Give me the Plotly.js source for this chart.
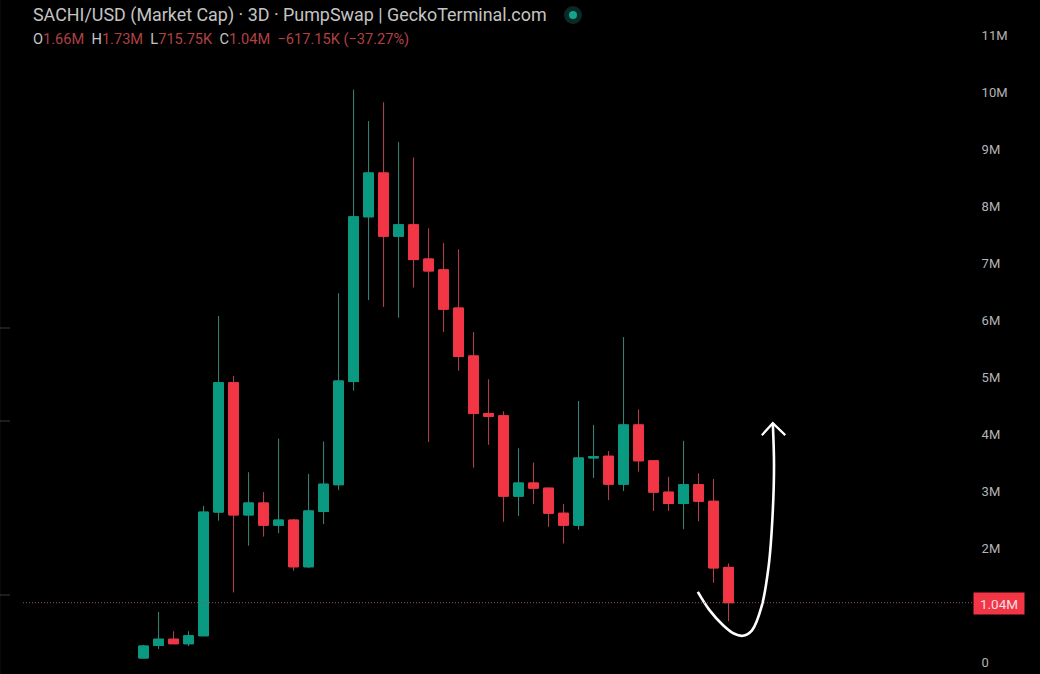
<!DOCTYPE html>
<html>
<head>
<meta charset="utf-8">
<script src="https://cdn.plot.ly/plotly-3.0.1.min.js"></script>
<style>
html, body { margin: 0; padding: 0; background: #000; overflow: hidden; }
</style>
</head>
<body>
<div id="chart" style="width:1040px;height:674px"></div>
<script>
// values in millions
var candle_x = [0,1,2,3,4,5,6,7,8,9,10,11,12,13,14,15,16,17,18,19,20,21,22,23,24,25,26,27,28,29,30,31,32,33,34,35,36,37,38,39]
var open_list = [0.07,0.29,0.40,0.32,0.46,2.63,4.90,2.58,2.79,2.40,2.49,1.67,2.64,3.11,4.92,7.81,8.58,7.47,7.67,7.07,6.88,6.21,5.37,4.36,4.32,2.91,3.14,3.05,2.61,2.40,3.58,3.61,3.12,4.16,3.53,2.98,2.78,3.11,2.82,1.66]
var high_list = [0.30,0.88,0.54,0.54,2.74,6.07,5.02,3.33,2.98,3.92,2.51,3.30,3.87,6.47,10.04,9.49,9.82,9.12,8.85,7.61,7.35,7.24,5.79,4.96,4.40,3.75,3.50,3.06,2.77,4.58,4.16,3.70,5.70,4.43,3.53,3.25,3.88,3.31,3.21,1.73]
var low_list = [0.07,0.23,0.32,0.28,0.46,2.48,1.22,2.04,2.20,2.26,1.60,1.65,2.42,3.02,4.76,6.35,6.23,6.04,6.57,3.86,5.79,5.11,3.41,3.81,2.46,2.56,2.77,2.37,2.08,2.32,3.23,2.84,3.00,3.34,2.65,2.65,2.33,2.47,1.39,0.716]
var close_list = [0.28,0.40,0.32,0.46,2.63,4.90,2.58,2.79,2.40,2.49,1.67,2.65,3.12,4.93,7.81,8.58,7.47,7.67,7.06,6.86,6.19,5.36,4.36,4.31,2.91,3.14,3.05,2.61,2.40,3.58,3.60,3.12,4.16,3.53,2.98,2.78,3.11,2.82,1.65,1.04]
var body_high = open_list.map(function (v, i) { return Math.max(v, close_list[i]) })
var body_low = open_list.map(function (v, i) { return Math.min(v, close_list[i]) })

var tick_vals = [0,2,3,4,5,6,7,8,9,10,11]
var tick_text = ['0','2M','3M','4M','5M','6M','7M','8M','9M','10M','11M']
var last_price = 1.04

// hand drawn arrow on top of the chart
var curve_x = [36.95,37.73,38.62,39.35,39.95,40.55,41.2,41.68,41.93,42.03,41.95]
var curve_y = [1.23,0.91,0.65,0.50,0.46,0.55,0.97,1.70,2.55,3.45,4.19]
var head_x = [41.22,41.95,42.78]
var head_y = [3.98,4.19,3.98]

var green = '#0a9981', red = '#f23645'
var green_wick = '#3a8a7b', red_wick = '#b8454f'

var wicks = {
    type: 'candlestick',
    x: candle_x, open: open_list, high: high_list, low: low_list, close: close_list,
    increasing: {line: {color: green_wick, width: 1}, fillcolor: green_wick},
    decreasing: {line: {color: red_wick, width: 1}, fillcolor: red_wick},
    whiskerwidth: 0,
    hoverinfo: 'skip'
}
var bodies = {
    type: 'candlestick',
    x: candle_x, open: open_list, high: body_high, low: body_low, close: close_list,
    increasing: {line: {color: green, width: 1}, fillcolor: green},
    decreasing: {line: {color: red, width: 1}, fillcolor: red},
    whiskerwidth: 0,
    hoverinfo: 'skip'
}
var curve = {
    type: 'scatter', mode: 'lines', x: curve_x, y: curve_y,
    line: {color: '#ffffff', width: 2.6, shape: 'spline', smoothing: 1},
    hoverinfo: 'skip'
}
var head = {
    type: 'scatter', mode: 'lines', x: head_x, y: head_y,
    line: {color: '#ffffff', width: 2.2},
    hoverinfo: 'skip'
}

function red_text(t) { return '<span style="color:#b04045">' + t + '</span>' }

var layout = {
    width: 1040,
    height: 674,
    margin: {t: 0, l: 23, r: 68, b: 0, pad: 0},
    paper_bgcolor: '#000000',
    plot_bgcolor: '#000000',
    showlegend: false,
    boxgap: 0.07,
    font: {family: 'Inter, Roboto, sans-serif'},
    title: {
        text: 'SACHI/USD (Market Cap) · 3D · PumpSwap | GeckoTerminal.com',
        font: {family: 'Roboto, sans-serif', size: 17.9, color: '#c4c4c4'},
        x: 33 / 1040, xanchor: 'left', xref: 'container',
        y: 1 - 15 / 674, yanchor: 'middle', yref: 'container'
    },
    xaxis: {
        visible: false,
        range: [-8.04, 55.23],
        rangeslider: {visible: false},
        showgrid: false
    },
    yaxis: {
        side: 'right',
        range: [-0.2105, 11.614],
        showgrid: false,
        zeroline: false,
        showline: false,
        tickmode: 'array',
        tickvals: tick_vals,
        ticktext: tick_text,
        ticks: 'outside',
        ticklen: 6,
        tickcolor: 'rgba(0,0,0,0)',
        tickfont: {family: 'Roboto, sans-serif', size: 13, color: '#b4b4b4'}
    },
    shapes: [
        // dotted last price line
        {type: 'line', xref: 'paper', x0: 0, x1: 1, yref: 'y', y0: last_price, y1: last_price,
         line: {color: '#8a5a48', width: 1, dash: '1px,2px'}},
        // left toolbar remains
        {type: 'line', xref: 'paper', x0: -23 / 949, x1: -23 / 949, yref: 'paper', y0: 0, y1: 1,
         line: {color: '#141414', width: 1}},
        {type: 'line', xref: 'paper', x0: -23 / 949, x1: -13 / 949, yref: 'paper', y0: 1 - 328 / 674, y1: 1 - 328 / 674,
         line: {color: '#3a3a3a', width: 1}},
        {type: 'line', xref: 'paper', x0: -23 / 949, x1: -13 / 949, yref: 'paper', y0: 1 - 421 / 674, y1: 1 - 421 / 674,
         line: {color: '#3a3a3a', width: 1}},
        {type: 'line', xref: 'paper', x0: -23 / 949, x1: -13 / 949, yref: 'paper', y0: 1 - 595 / 674, y1: 1 - 595 / 674,
         line: {color: '#3a3a3a', width: 1}},
        // status dot next to the title
        {type: 'circle', xref: 'paper', yref: 'paper', xsizemode: 'pixel', ysizemode: 'pixel',
         xanchor: 550 / 949, yanchor: 1 - 15 / 674, x0: -9, x1: 9, y0: -9, y1: 9,
         fillcolor: '#0c2a25', line: {width: 0}},
        {type: 'circle', xref: 'paper', yref: 'paper', xsizemode: 'pixel', ysizemode: 'pixel',
         xanchor: 550 / 949, yanchor: 1 - 15 / 674, x0: -4, x1: 4, y0: -4, y1: 4,
         fillcolor: '#12a58c', line: {width: 0}}
    ],
    annotations: [
        {
            xref: 'paper', yref: 'paper', x: 8 / 949, y: 1 - 39 / 674,
            xanchor: 'left', yanchor: 'middle', showarrow: false, align: 'left',
            font: {family: 'Roboto, sans-serif', size: 14.6, color: '#c4c4c4'},
            text: 'O' + red_text('1.66M') + '  H' + red_text('1.73M') + '  L' + red_text('715.75K') +
                  '  C' + red_text('1.04M') + '  ' + red_text('−617.15K (−37.27%)')
        },
        {
            xref: 'paper', yref: 'y', x: 950 / 949, y: last_price - 0.005,
            xanchor: 'left', yanchor: 'middle', showarrow: false,
            text: '1.04M', width: 44, height: 15, align: 'center',
            bgcolor: red, borderpad: 3,
            font: {family: 'Roboto, sans-serif', size: 13.5, color: '#f5dfe0'}
        }
    ]
}

Plotly.newPlot('chart', [wicks, bodies, curve, head], layout, {displayModeBar: false, staticPlot: true})
</script>
</body>
</html>
